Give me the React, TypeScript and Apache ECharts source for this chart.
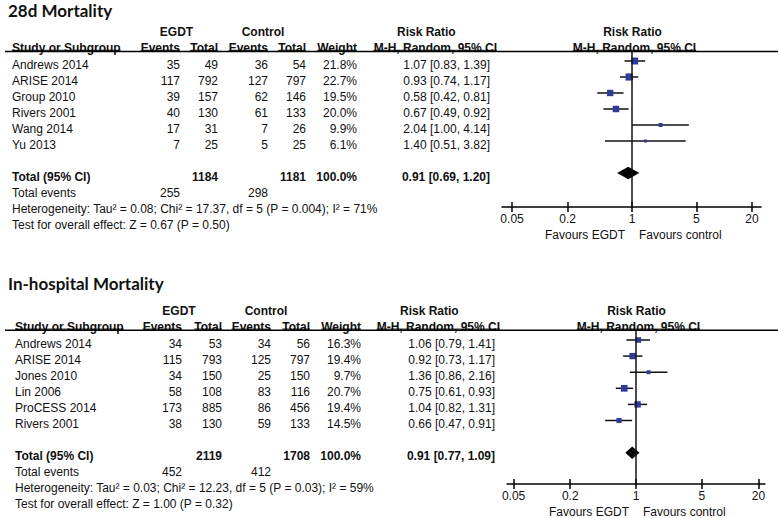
import React, { useEffect, useRef } from 'react';
import * as echarts from 'echarts';

// ---------- data: 28d mortality ----------
const studies28 = ['Andrews 2014', 'ARISE 2014', 'Group 2010', 'Rivers 2001', 'Wang 2014', 'Yu 2013'];
const egdtEvents28 = [35, 117, 39, 40, 17, 7];
const egdtTotal28 = [49, 792, 157, 130, 31, 25];
const ctrlEvents28 = [36, 127, 62, 61, 7, 5];
const ctrlTotal28 = [54, 797, 146, 133, 26, 25];
const weight28 = [21.8, 22.7, 19.5, 20.0, 9.9, 6.1];
const rr28 = [1.07, 0.93, 0.58, 0.67, 2.04, 1.4];
const lo28 = [0.83, 0.74, 0.42, 0.49, 1.0, 0.51];
const hi28 = [1.39, 1.17, 0.81, 0.92, 4.14, 3.82];
const totals28 = [1184, 1181];
const totalEvents28 = [255, 298];
const pooled28 = [0.91, 0.69, 1.2];
const het28 = 'Heterogeneity: Tau² = 0.08; Chi² = 17.37, df = 5 (P = 0.004); I² = 71%';
const overall28 = 'Test for overall effect: Z = 0.67 (P = 0.50)';

// ---------- data: in-hospital mortality ----------
const studiesH = ['Andrews 2014', 'ARISE 2014', 'Jones 2010', 'Lin 2006', 'ProCESS 2014', 'Rivers 2001'];
const egdtEventsH = [34, 115, 34, 58, 173, 38];
const egdtTotalH = [53, 793, 150, 108, 885, 130];
const ctrlEventsH = [34, 125, 25, 83, 86, 59];
const ctrlTotalH = [56, 797, 150, 116, 456, 133];
const weightH = [16.3, 19.4, 9.7, 20.7, 19.4, 14.5];
const rrH = [1.06, 0.92, 1.36, 0.75, 1.04, 0.66];
const loH = [0.79, 0.73, 0.86, 0.61, 0.82, 0.47];
const hiH = [1.41, 1.17, 2.16, 0.93, 1.31, 0.91];
const totalsH = [2119, 1708];
const totalEventsH = [452, 412];
const pooledH = [0.91, 0.77, 1.09];
const hetH = 'Heterogeneity: Tau² = 0.03; Chi² = 12.23, df = 5 (P = 0.03); I² = 59%';
const overallH = 'Test for overall effect: Z = 1.00 (P = 0.32)';

// ---------- axis ticks ----------
const tickValues = [0.05, 0.2, 1, 5, 20];
const tickLabels = ['0.05', '0.2', '1', '5', '20'];

const FF = '"Liberation Sans", Arial, sans-serif';
const F12 = `12px ${FF}`;
const B12 = `bold 12px ${FF}`;
const TITLE_FONT = 'bold 17px Lato, "Open Sans", sans-serif';
const INK = '#111';
const BLUE = '#2f3c97';

const panels = [
  {
    title: '28d Mortality', studies: studies28, ee: egdtEvents28, et: egdtTotal28, ce: ctrlEvents28, ct: ctrlTotal28,
    w: weight28, rr: rr28, lo: lo28, hi: hi28, totals: totals28, totalEvents: totalEvents28, pooled: pooled28,
    het: het28, overall: overall28,
  },
  {
    title: 'In-hospital Mortality', studies: studiesH, ee: egdtEventsH, et: egdtTotalH, ce: ctrlEventsH, ct: ctrlTotalH,
    w: weightH, rr: rrH, lo: loH, hi: hiH, totals: totalsH, totalEvents: totalEventsH, pooled: pooledH,
    het: hetH, overall: overallH,
  },
];

const layouts = [
  {
    titleY: 10, hdr1Y: 32, hdr2Y: 48, ruleY: 51.5, ruleX: 5,
    y0: 61, sp: 16, textDy: 3.6, extraSp: 16,
    colStudy: 12, colEE: 180, colET: 218, colCE: 268, colCT: 306, colW: 357, colRR: 490,
    egdtC: 176.5, ctrlC: 263, rrHdrL: 397, mhR: 497,
    x1: 632, ppd: 92.2, xmin: -1.41, xmax: 1.4, ymin: -0.594, ymax: 9.125, favY: 235,
  },
  {
    titleY: 283, hdr1Y: 310.5, hdr2Y: 326.5, ruleY: 330.3, ruleX: 5,
    y0: 340, sp: 16.1, textDy: 3.5, extraSp: 16,
    colStudy: 15, colEE: 182, colET: 222, colCE: 271, colCT: 310, colW: 361, colRR: 495,
    egdtC: 179, ctrlC: 266, rrHdrL: 400, mhR: 500,
    x1: 636, ppd: 94.1, xmin: -1.37, xmax: 1.37, ymin: -0.6, ymax: 8.94, favY: 512,
  },
];

let mctx: CanvasRenderingContext2D | null = null;
function textWidth(t: string, font: string) {
  if (!mctx) mctx = document.createElement('canvas').getContext('2d');
  if (!mctx) return t.length * 6.5;
  mctx.font = font;
  return mctx.measureText(t).width;
}

function txt(text: string, x: number, y: number, font: string, align: string = 'left') {
  return {
    type: 'text', x, y, silent: true,
    style: { text, font, fill: INK, textAlign: align, textVerticalAlign: 'middle' },
  };
}
function hline(x1: number, x2: number, y: number, w: number) {
  return { type: 'line', silent: true, shape: { x1, y1: y, x2, y2: y }, style: { stroke: '#000', lineWidth: w } };
}

function buildOption() {
  const grids: any[] = [];
  const xAxes: any[] = [];
  const yAxes: any[] = [];
  const series: any[] = [];
  const elements: any[] = [];

  panels.forEach((p, k) => {
    const L = layouts[k];
    const n = p.studies.length;
    const totalIdx = n + 1;

    grids.push({
      left: L.x1 + L.xmin * L.ppd,
      width: (L.xmax - L.xmin) * L.ppd,
      top: L.y0 + L.ymin * L.sp,
      height: (L.ymax - L.ymin) * L.sp,
      containLabel: false,
      outerBoundsMode: 'none',
    });
    const tickLogs = tickValues.map((v) => Math.log10(v));
    const base = {
      type: 'value', gridIndex: k, min: L.xmin, max: L.xmax, position: 'bottom', offset: 0,
      splitLine: { show: false },
    };
    xAxes.push({
      ...base,
      axisLine: { show: true, onZero: false, lineStyle: { color: '#000', width: 1.5 } },
      axisTick: { show: true, inside: false, length: 5, customValues: tickLogs, lineStyle: { color: '#000', width: 1.5 } },
      axisLabel: {
        show: true, customValues: tickLogs, margin: 6, color: INK, fontSize: 12, fontFamily: FF, lineHeight: 12,
        formatter: (v: number) => {
          const i = tickLogs.findIndex((t) => Math.abs(t - v) < 1e-6);
          return i >= 0 ? tickLabels[i] : '';
        },
      },
    });
    xAxes.push({
      ...base,
      axisLine: { show: false, onZero: false },
      axisTick: { show: true, inside: true, length: 5, customValues: tickLogs, lineStyle: { color: '#000', width: 1.5 } },
      axisLabel: { show: false },
    });
    yAxes.push({ type: 'value', gridIndex: k, min: L.ymin, max: L.ymax, inverse: true, show: false });

    // CI whiskers
    series.push({
      type: 'custom', xAxisIndex: 2 * k, yAxisIndex: k, silent: true, z: 2,
      data: p.lo.map((l, i) => [Math.log10(l), Math.log10(p.hi[i]), i]),
      encode: { x: [0, 1], y: 2 },
      renderItem: (params: any, api: any) => {
        const y = api.value(2);
        const a = api.coord([api.value(0), y]);
        const b = api.coord([api.value(1), y]);
        return { type: 'line', shape: { x1: a[0], y1: a[1], x2: b[0], y2: b[1] }, style: { stroke: '#111', lineWidth: 1.5 } };
      },
      markLine: {
        silent: true, symbol: ['none', 'none'], label: { show: false },
        lineStyle: { color: '#111', width: 1.5, type: 'solid' },
        data: [{ xAxis: 0 }],
      },
    });
    // squares
    series.push({
      type: 'scatter', xAxisIndex: 2 * k, yAxisIndex: k, silent: true, z: 3, symbol: 'rect',
      itemStyle: { color: BLUE, opacity: 1 },
      data: p.rr.map((r, i) => ({ value: [Math.log10(r), i], symbolSize: 0.25 * p.w[i] + 1.5 })),
    });
    // pooled diamond
    series.push({
      type: 'custom', xAxisIndex: 2 * k, yAxisIndex: k, silent: true, z: 4,
      data: [[Math.log10(p.pooled[1]), Math.log10(p.pooled[0]), Math.log10(p.pooled[2]), totalIdx]],
      encode: { x: [0, 1, 2], y: 3 },
      renderItem: (params: any, api: any) => {
        const y = api.value(3);
        const l = api.coord([api.value(0), y]);
        const c = api.coord([api.value(1), y]);
        const r = api.coord([api.value(2), y]);
        return {
          type: 'polygon',
          shape: { points: [[l[0], l[1]], [c[0], c[1] - 6.3], [r[0], r[1]], [c[0], c[1] + 6.3]] },
          style: { fill: '#000' },
        };
      },
    });

    // ---- table texts ----
    elements.push(txt(p.title, 8, L.titleY, TITLE_FONT));
    elements.push(txt('EGDT', L.egdtC, L.hdr1Y, B12, 'center'));
    elements.push(txt('Control', L.ctrlC, L.hdr1Y, B12, 'center'));
    elements.push(txt('Risk Ratio', L.rrHdrL, L.hdr1Y, B12, 'left'));
    elements.push(txt('Risk Ratio', L.x1 + 0.5, L.hdr1Y, B12, 'center'));

    const hdr2: [string, number, string][] = [
      ['Study or Subgroup', L.colStudy, 'left'],
      ['Events', L.colEE, 'right'],
      ['Total', L.colET, 'right'],
      ['Events', L.colCE, 'right'],
      ['Total', L.colCT, 'right'],
      ['Weight', L.colW, 'right'],
      ['M-H, Random, 95% CI', L.mhR, 'right'],
      ['M-H, Random, 95% CI', L.x1 + 2.5, 'center'],
    ];
    hdr2.forEach(([t, x, a]) => {
      elements.push(txt(t, x, L.hdr2Y, B12, a));
      const wdt = textWidth(t, B12);
      const xs = a === 'left' ? x : a === 'right' ? x - wdt : x - wdt / 2;
      elements.push(hline(xs, xs + wdt, L.ruleY - 1.2, 1));
    });
    elements.push(hline(L.ruleX, 778, L.ruleY, 1.5));

    p.studies.forEach((s, i) => {
      const y = L.y0 + i * L.sp + L.textDy;
      elements.push(txt(s, L.colStudy, y, F12));
      elements.push(txt(String(p.ee[i]), L.colEE, y, F12, 'right'));
      elements.push(txt(String(p.et[i]), L.colET, y, F12, 'right'));
      elements.push(txt(String(p.ce[i]), L.colCE, y, F12, 'right'));
      elements.push(txt(String(p.ct[i]), L.colCT, y, F12, 'right'));
      elements.push(txt(p.w[i].toFixed(1) + '%', L.colW, y, F12, 'right'));
      elements.push(txt(`${p.rr[i].toFixed(2)} [${p.lo[i].toFixed(2)}, ${p.hi[i].toFixed(2)}]`, L.colRR, y, F12, 'right'));
    });
    const ty = L.y0 + totalIdx * L.sp + L.textDy;
    elements.push(txt('Total (95% CI)', L.colStudy, ty, B12));
    elements.push(txt(String(p.totals[0]), L.colET, ty, B12, 'right'));
    elements.push(txt(String(p.totals[1]), L.colCT, ty, B12, 'right'));
    elements.push(txt('100.0%', L.colW, ty, B12, 'right'));
    elements.push(txt(`${p.pooled[0].toFixed(2)} [${p.pooled[1].toFixed(2)}, ${p.pooled[2].toFixed(2)}]`, L.colRR, ty, B12, 'right'));
    const ey = ty + L.extraSp;
    elements.push(txt('Total events', L.colStudy, ey, F12));
    elements.push(txt(String(p.totalEvents[0]), L.colEE, ey, F12, 'right'));
    elements.push(txt(String(p.totalEvents[1]), L.colCE, ey, F12, 'right'));
    elements.push(txt(p.het, L.colStudy, ey + L.extraSp, F12));
    elements.push(txt(p.overall, L.colStudy, ey + 2 * L.extraSp, F12));

    elements.push(txt('Favours EGDT', L.x1 - 7, L.favY, F12, 'right'));
    elements.push(txt('Favours control', L.x1 + 7, L.favY, F12, 'left'));
  });

  return {
    animation: false,
    backgroundColor: '#fff',
    grid: grids,
    xAxis: xAxes,
    yAxis: yAxes,
    series,
    graphic: { elements },
  };
}

export default function App() {
  const ref = useRef<HTMLDivElement>(null);
  useEffect(() => {
    if (!ref.current) return;
    const chart = echarts.init(ref.current, undefined, { renderer: 'svg' });
    chart.setOption(buildOption() as any);
    return () => chart.dispose();
  }, []);
  return <div ref={ref} style={{ position: 'fixed', left: 0, top: 0, width: 778, height: 518, background: '#fff' }} />;
}
